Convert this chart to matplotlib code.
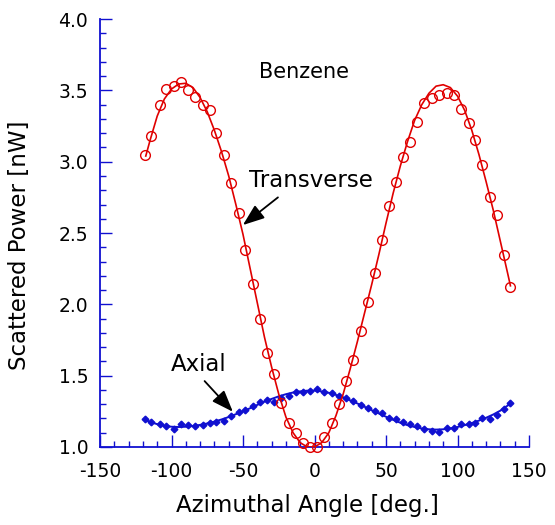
import matplotlib
matplotlib.use("Agg")
import matplotlib.pyplot as plt
from matplotlib.ticker import MultipleLocator, FormatStrFormatter

plt.rcParams["font.family"] = ["DejaVu Sans"]
plt.rcParams["axes.unicode_minus"] = False

# Transverse: measured points (open circles)
trans_angle = [-118.2, -114.2, -108.4, -103.7, -98.6, -93.5, -88.6, -83.4, -78.1, -72.9,
               -68.7, -63.6, -58.3, -52.9, -48.5, -43.1, -38.2, -32.9, -28.0, -23.3,
               -18.0, -13.1, -7.9, -3.5, 1.9, 6.8, 12.1, 17.3, 22.2, 27.1,
               32.4, 37.2, 42.3, 47.4, 52.0, 57.1, 62.0, 67.1, 72.0, 76.9,
               82.0, 87.2, 92.3, 97.4, 102.1, 107.7, 112.1, 117.0, 122.4, 127.3,
               132.4, 136.9]
trans_power = [3.05, 3.18, 3.40, 3.51, 3.53, 3.56, 3.50, 3.455, 3.40, 3.36,
               3.20, 3.05, 2.85, 2.64, 2.38, 2.14, 1.90, 1.66, 1.51, 1.31,
               1.17, 1.10, 1.03, 1.00, 1.00, 1.07, 1.17, 1.30, 1.465, 1.61,
               1.81, 2.02, 2.22, 2.45, 2.69, 2.86, 3.03, 3.14, 3.28, 3.41,
               3.45, 3.47, 3.48, 3.47, 3.37, 3.27, 3.15, 2.98, 2.75, 2.63,
               2.345, 2.12]

# Axial: measured points (filled diamonds)
axial_angle = trans_angle
axial_power = [1.196, 1.177, 1.163, 1.147, 1.126, 1.159, 1.154, 1.149, 1.152, 1.166,
               1.175, 1.184, 1.217, 1.245, 1.257, 1.287, 1.313, 1.329, 1.315, 1.341,
               1.360, 1.383, 1.385, 1.395, 1.406, 1.388, 1.376, 1.357, 1.341, 1.325,
               1.294, 1.276, 1.255, 1.236, 1.206, 1.194, 1.173, 1.159, 1.145, 1.128,
               1.114, 1.103, 1.131, 1.135, 1.159, 1.161, 1.170, 1.205, 1.194, 1.226,
               1.264, 1.308]

# Fit curves
fit_angle = [-118, -115, -110, -105, -100, -95, -90, -85, -80, -75, -70, -65, -60, -55,
             -50, -45, -40, -35, -30, -25, -20, -15, -10, -5, 0, 5, 10, 15, 20, 25,
             30, 35, 40, 45, 50, 55, 60, 65, 70, 75, 80, 85, 90, 95, 100, 105, 110,
             115, 120, 125, 130, 135, 137]
trans_fit = [3.04, 3.15, 3.32, 3.44, 3.51, 3.545, 3.55, 3.52, 3.45, 3.35, 3.22, 3.07,
             2.90, 2.70, 2.49, 2.25, 2.01, 1.77, 1.56, 1.37, 1.21, 1.10, 1.03, 1.00,
             1.00, 1.03, 1.10, 1.22, 1.37, 1.55, 1.74, 1.94, 2.14, 2.35, 2.57, 2.78,
             2.97, 3.14, 3.29, 3.40, 3.48, 3.53, 3.54, 3.52, 3.46, 3.36, 3.22, 3.05,
             2.86, 2.66, 2.44, 2.22, 2.13]
axial_fit = [1.19, 1.175, 1.16, 1.148, 1.142, 1.14, 1.142, 1.147, 1.155, 1.165, 1.178,
             1.193, 1.21, 1.23, 1.25, 1.272, 1.295, 1.318, 1.337, 1.355, 1.37, 1.382,
             1.39, 1.395, 1.395, 1.39, 1.38, 1.365, 1.347, 1.327, 1.305, 1.282, 1.258,
             1.235, 1.212, 1.19, 1.17, 1.153, 1.14, 1.13, 1.124, 1.122, 1.124, 1.13,
             1.14, 1.153, 1.168, 1.185, 1.205, 1.228, 1.255, 1.29, 1.305]

RED = "#e00000"
BLUE = "#1010d0"

fig = plt.figure(figsize=(5.55, 5.25), dpi=100)
ax = fig.add_axes([0.1802, 0.1486, 0.773, 0.815])

ax.plot(fit_angle, axial_fit, color=BLUE, lw=1.4, zorder=2)
ax.plot(axial_angle, axial_power, ls="none", marker="D", ms=3.4, color=BLUE, zorder=2)
ax.plot(fit_angle, trans_fit, color=RED, lw=1.2, zorder=3)
ax.plot(trans_angle, trans_power, ls="none", marker="o", ms=7, mfc="none",
        mec=RED, mew=1.0, zorder=3, clip_on=False)

ax.set_xlim(-150, 150)
ax.set_ylim(1.0, 4.0)
ax.xaxis.set_major_locator(MultipleLocator(50))
ax.xaxis.set_minor_locator(MultipleLocator(10))
ax.yaxis.set_major_locator(MultipleLocator(0.5))
ax.yaxis.set_minor_locator(MultipleLocator(0.1))
ax.yaxis.set_major_formatter(FormatStrFormatter("%.1f"))

for side in ("top", "right"):
    ax.spines[side].set_visible(False)
for side in ("left", "bottom"):
    ax.spines[side].set_color(BLUE)
    ax.spines[side].set_linewidth(1.3)

ax.tick_params(which="both", direction="in", color=BLUE, labelsize=13.5)
ax.tick_params(which="major", length=8.5, width=1.0)
ax.tick_params(which="minor", length=4.5, width=1.0)
ax.tick_params(axis="x", pad=11)
ax.tick_params(axis="y", pad=8.5)

ax.set_xlabel("Azimuthal Angle [deg.]", fontsize=16.5)
ax.set_ylabel("Scattered Power [nW]", fontsize=16.5)
ax.xaxis.set_label_coords(0.4825, -0.11)
ax.yaxis.set_label_coords(-0.16, 0.472)

ax.text(-7.7, 3.63, "Benzene", fontsize=15, ha="center", va="center")

arrow = dict(arrowstyle="-|>,head_length=0.8,head_width=0.3",
             color="black", lw=1.3, shrinkA=0, shrinkB=0)
ax.annotate("Transverse", xy=(-50.1, 2.556), xytext=(-45.5, 2.871),
            fontsize=16.5, ha="left", va="center",
            arrowprops=dict(arrow, relpos=(0.23, -0.25)))
ax.annotate("Axial", xy=(-57.1, 1.247), xytext=(-100.2, 1.575),
            fontsize=16.5, ha="left", va="center",
            arrowprops=dict(arrow, relpos=(0.6, -0.2)))

fig.savefig("out.png", dpi=100)
